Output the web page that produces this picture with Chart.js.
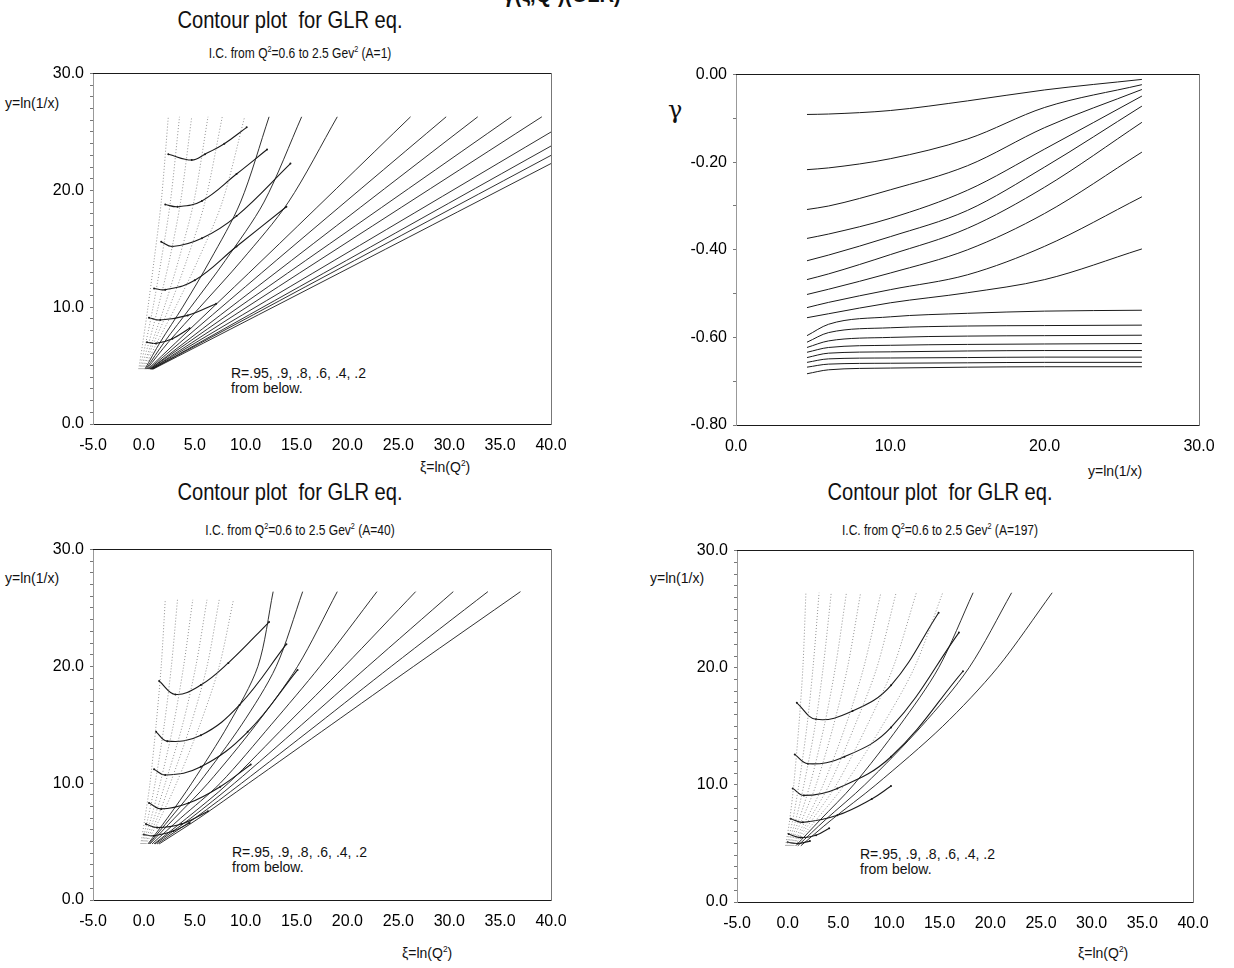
<!DOCTYPE html>
<html>
<head>
<meta charset="utf-8">
<script src="https://cdn.jsdelivr.net/npm/chart.js@4.4.1/dist/chart.umd.min.js"></script>
<style>
  body { margin: 0; background: #fff; width: 1234px; height: 968px; position: relative; overflow: hidden; font-family: 'Liberation Sans', Arial, sans-serif; color: #111; }
  canvas { position: absolute; }
  .lbl { position: absolute; white-space: nowrap; }
  .title { font-size: 24px; transform: translateX(-50%) scaleX(0.84); }
  .sub { font-size: 14px; transform: translateX(-50%) scaleX(0.86); }
  .ax { font-size: 14px; }
  .note { font-size: 14px; line-height: 15px; }
  sup { font-size: 0.6em; }
</style>
</head>
<body>
<div class="lbl title" style="left:562px; top:-20px; font-weight:bold;">γ(ξ,Q<sup>2</sup>)(GLR)</div>

<div class="lbl title" style="left:290px; top:6px;">Contour plot&nbsp; for GLR eq.</div>
<div class="lbl sub" style="left:300px; top:44px;">I.C. from Q<sup>2</sup>=0.6 to 2.5 Gev<sup>2</sup> (A=1)</div>
<div class="lbl ax" style="left:5px; top:95px;">y=ln(1/x)</div>
<div class="lbl ax" style="left:420px; top:458px;">ξ=ln(Q<sup>2</sup>)</div>
<div class="lbl note" style="left:231px; top:366px;">R=.95, .9, .8, .6, .4, .2<br>from below.</div>

<div class="lbl" style="left:668px; top:96px; font-size:24px; font-family:'DejaVu Serif', serif;">γ</div>
<div class="lbl ax" style="left:1088px; top:463px;">y=ln(1/x)</div>

<div class="lbl title" style="left:290px; top:478px;">Contour plot&nbsp; for GLR eq.</div>
<div class="lbl sub" style="left:300px; top:521px;">I.C. from Q<sup>2</sup>=0.6 to 2.5 Gev<sup>2</sup> (A=40)</div>
<div class="lbl ax" style="left:5px; top:570px;">y=ln(1/x)</div>
<div class="lbl ax" style="left:402px; top:944px;">ξ=ln(Q<sup>2</sup>)</div>
<div class="lbl note" style="left:232px; top:845px;">R=.95, .9, .8, .6, .4, .2<br>from below.</div>

<div class="lbl title" style="left:940px; top:478px;">Contour plot&nbsp; for GLR eq.</div>
<div class="lbl sub" style="left:940px; top:521px;">I.C. from Q<sup>2</sup>=0.6 to 2.5 Gev<sup>2</sup> (A=197)</div>
<div class="lbl ax" style="left:650px; top:570px;">y=ln(1/x)</div>
<div class="lbl ax" style="left:1078px; top:944px;">ξ=ln(Q<sup>2</sup>)</div>
<div class="lbl note" style="left:860px; top:847px;">R=.95, .9, .8, .6, .4, .2<br>from below.</div>

<canvas id="c1"></canvas>
<canvas id="c2"></canvas>
<canvas id="c3"></canvas>
<canvas id="c4"></canvas>

<script>
// ---- dados ----
// A=1 : caracteristicas (xi, y)
const a1Rays = [
  [[-0.5,4.7],[-0.1,7],[0.4,10],[1.0,14],[1.7,19],[2.4,26.3]],
  [[-0.4,4.7],[0.2,7],[0.9,10],[1.7,14],[2.6,19],[3.5,26.3]],
  [[-0.3,4.7],[0.5,7],[1.4,10],[2.5,14],[3.6,19],[4.7,26.3]],
  [[-0.2,4.7],[0.8,7],[2.0,10],[3.4,14],[4.9,19],[6.3,26.3]],
  [[-0.1,4.7],[1.0,7],[2.5,10],[4.2,14],[6.0,19],[7.7,26.3]],
  [[0.0,4.7],[1.3,7],[3.1,10],[5.3,14],[7.7,19],[9.9,26.3]],
  [[0.1,4.7],[1.6,7],[3.8,10],[6.5,14],[9.5,19],[12.3,26.3]],
  [[0.2,4.7],[2.0,7],[4.6,10],[8.0,14],[11.8,19],[15.5,26.3]],
  [[0.3,4.7],[2.4,7],[5.5,10],[9.6,14],[14.2,19],[19.0,26.3]],
  [[0.4,4.7],[11.6,14],[26.2,26.3]],
  [[0.5,4.7],[13.0,14],[29.7,26.3]],
  [[0.6,4.7],[14.5,14],[32.8,26.3]],
  [[0.6,4.7],[15.9,14],[36.1,26.3]],
  [[0.7,4.7],[17.2,14],[39.1,26.3]],
  [[0.7,4.7],[18.7,14],[40.0,25.0]],
  [[0.8,4.7],[19.9,14],[40.0,23.8]],
  [[0.8,4.7],[20.7,14],[40.0,23.0]],
  [[0.9,4.7],[21.6,14],[40.0,22.3]]
];
// A=1 : contornos R = .95, .9, .8, .6, .4, .2
const a1Contours = [
  [[0.3,7.0],[1.2,6.9],[2.8,7.3],[4.5,8.2]],
  [[0.5,9.1],[1.6,8.9],[4.3,9.3],[7.1,10.3]],
  [[1.0,11.6],[2.1,11.5],[5.0,12.3],[9.1,15.2],[14.0,18.6]],
  [[1.7,15.6],[2.8,15.2],[5.7,15.9],[9.1,17.8],[14.4,22.3]],
  [[2.1,18.8],[3.3,18.6],[5.7,19.1],[9.1,21.4],[12.1,23.5]],
  [[2.4,23.1],[4.7,22.6],[6.0,23.1],[7.9,24.0],[10.1,25.4]]
];

// gamma x y=ln(1/x)
const gammaY = [4.6, 6, 10, 15, 20, 26.3];
const gammaCurves = [
  [-0.091, -0.090, -0.082, -0.060, -0.035, -0.011],
  [-0.217, -0.213, -0.192, -0.147, -0.075, -0.023],
  [-0.308, -0.300, -0.263, -0.208, -0.121, -0.034],
  [-0.374, -0.364, -0.328, -0.264, -0.170, -0.049],
  [-0.425, -0.412, -0.370, -0.310, -0.211, -0.072],
  [-0.468, -0.455, -0.411, -0.351, -0.257, -0.109],
  [-0.502, -0.490, -0.453, -0.400, -0.317, -0.177],
  [-0.532, -0.520, -0.491, -0.457, -0.392, -0.279],
  [-0.555, -0.546, -0.521, -0.498, -0.468, -0.398],
  [-0.596, -0.570, -0.553, -0.545, -0.540, -0.538],
  [-0.611, -0.589, -0.578, -0.574, -0.573, -0.572],
  [-0.623, -0.608, -0.600, -0.597, -0.596, -0.595],
  [-0.634, -0.623, -0.618, -0.616, -0.615, -0.614],
  [-0.646, -0.636, -0.633, -0.631, -0.630, -0.630],
  [-0.657, -0.649, -0.647, -0.646, -0.645, -0.645],
  [-0.668, -0.661, -0.659, -0.658, -0.657, -0.657],
  [-0.683, -0.674, -0.670, -0.668, -0.667, -0.667]
];

// A=40
const a40Rays = [
  [[-0.3,4.8],[0.1,7],[0.6,10],[1.2,15],[1.7,20],[2.1,25.7]],
  [[-0.2,4.8],[0.4,7],[1.1,10],[2.0,15],[2.7,20],[3.3,25.7]],
  [[-0.1,4.8],[0.7,7],[1.6,10],[2.9,15],[3.9,20],[4.8,25.7]],
  [[0.0,4.8],[1.0,7],[2.1,10],[3.8,15],[5.1,20],[6.2,25.7]],
  [[0.1,4.8],[1.3,7],[2.6,10],[4.6,15],[6.2,20],[7.4,25.7]],
  [[0.2,4.8],[1.6,7],[3.2,10],[5.5,15],[7.4,20],[8.8,25.7]],
  [[0.4,4.8],[2.3,7],[4.7,10],[8.3,15],[11.2,20],[12.7,26.4]],
  [[0.5,4.8],[2.6,7],[5.4,10],[9.6,15],[13.0,20],[15.6,26.4]],
  [[0.6,4.8],[3.0,7],[6.3,10],[11.0,15],[15.1,20],[19.0,26.4]],
  [[0.8,4.8],[3.6,7],[7.5,10],[12.5,15],[17.3,20],[22.9,26.4]],
  [[1.0,4.8],[4.2,7],[8.3,10],[14.0,15],[19.7,20],[26.7,26.4]],
  [[1.1,4.8],[4.6,7],[8.9,10],[15.5,15],[22.0,20],[30.4,26.4]],
  [[1.3,4.8],[5.0,7],[9.6,10],[17.0,15],[24.3,20],[33.8,26.4]],
  [[1.5,4.8],[5.4,7],[10.3,10],[18.4,15],[26.5,20],[37.0,26.4]]
];
const a40Contours = [
  [[0.0,5.6],[1.0,5.5],[2.9,5.9],[4.5,6.6]],
  [[0.2,6.5],[1.3,6.2],[3.7,6.5],[6.3,7.6]],
  [[0.5,8.3],[1.7,7.8],[4.4,8.3],[7.5,9.7],[10.5,11.6]],
  [[1.0,11.2],[2.1,10.7],[5.6,11.4],[10.2,14.4],[15.1,19.7]],
  [[1.2,14.4],[2.3,13.6],[5.6,14.1],[9.4,16.7],[14.0,21.9]],
  [[1.5,18.75],[3.1,17.6],[5.6,18.4],[8.3,20.3],[12.3,23.8]]
];

// A=197
const a197Rays = [
  [[-0.2,4.8],[0.2,7],[0.6,10],[1.1,15],[1.5,20],[1.8,26.4]],
  [[-0.1,4.8],[0.5,7],[1.1,10],[1.9,15],[2.5,20],[3.1,26.4]],
  [[0.0,4.8],[0.8,7],[1.6,10],[2.7,15],[3.5,20],[4.3,26.4]],
  [[0.1,4.8],[1.1,7],[2.2,10],[3.6,15],[4.7,20],[5.8,26.4]],
  [[0.2,4.8],[1.4,7],[2.8,10],[4.5,15],[5.9,20],[7.2,26.4]],
  [[0.3,4.8],[1.8,7],[3.5,10],[5.7,15],[7.5,20],[9.2,26.4]],
  [[0.4,4.8],[2.1,7],[4.1,10],[6.6,15],[8.8,20],[10.7,26.4]],
  [[0.5,4.8],[2.4,7],[4.8,10],[7.8,15],[10.4,20],[12.7,26.4]],
  [[0.6,4.8],[2.8,7],[5.6,10],[9.3,15],[12.5,20],[15.3,26.4]],
  [[0.8,4.8],[3.2,7],[6.5,10],[11.0,15],[14.9,20],[18.3,26.4]],
  [[1.0,4.8],[3.7,7],[7.6,10],[13.2,15],[17.9,20],[22.1,26.4]],
  [[1.3,4.8],[4.3,7],[8.7,10],[15.3,15],[20.7,20],[26.1,26.4]]
];
const a197Contours = [
  [[0.0,5.1],[1.0,5.0],[2.2,5.2]],
  [[0.1,5.8],[1.3,5.5],[2.8,5.7],[4.1,6.3]],
  [[0.3,7.1],[1.5,6.8],[4.9,7.4],[8.3,8.8],[10.2,9.9]],
  [[0.5,9.7],[1.6,9.1],[4.9,9.7],[10.2,12.4],[17.3,19.7]],
  [[0.7,12.6],[2.0,11.8],[5.6,12.4],[10.2,14.9],[16.9,23.0]],
  [[0.9,17.0],[2.8,15.6],[6.4,16.3],[10.2,18.5],[14.9,24.7]]
];

const xiTicks = { min: -5, max: 40, step: 5 };
const yTicks = { min: 0, max: 30, step: 10 };
const gammaAxis = { min: -0.8, max: 0, step: 0.2 };
const yAxisLn = { min: 0, max: 30, step: 10 };

// ---- desenho ----
Chart.defaults.font.family = "'Liberation Sans', Arial, sans-serif";
Chart.defaults.color = '#111';

const AXW = 80, PADT = 14, PADR = 28, AXH = 26;
const INK = '#1a1a1a';

function toXY(pts) {
  return pts.map(p => ({ x: p[0], y: p[1] }));
}

function linhas(curves, nDotted, tension) {
  return curves.map((pts, i) => ({
    data: toXY(pts),
    showLine: true,
    borderColor: i < nDotted ? '#777' : INK,
    borderWidth: i < nDotted ? 0.8 : 0.9,
    borderDash: i < nDotted ? [1, 2] : [],
    pointRadius: 0,
    tension: tension
  }));
}

function contornos(curves) {
  return curves.map(pts => ({
    data: toXY(pts),
    showLine: true,
    borderColor: INK,
    borderWidth: 1.1,
    pointRadius: 1,
    pointBackgroundColor: INK,
    pointBorderWidth: 0,
    tension: 0.4
  }));
}

function eixos(xr, yr, xfmt, yfmt, yMinor) {
  const edge = { color: INK, width: 1 };
  return {
    x: {
      type: 'linear', position: 'bottom', min: xr.min, max: xr.max,
      ticks: { stepSize: xr.step, callback: v => xfmt(v), font: { size: 16 }, padding: 4, autoSkip: false, maxRotation: 0, color: '#000' },
      grid: { display: false },
      border: { color: INK, width: 1, dash: [6, 2] },
      afterFit: s => { s.height = AXH; }
    },
    y: {
      type: 'linear', position: 'left', min: yr.min, max: yr.max,
      ticks: {
        stepSize: yMinor, autoSkip: false, font: { size: 16 }, padding: 6, color: '#000',
        callback: v => (Math.abs((v - yr.min) / yr.step - Math.round((v - yr.min) / yr.step)) < 1e-6 ? yfmt(v) : '')
      },
      grid: { display: true, drawOnChartArea: false, drawTicks: true, tickLength: 3, color: '#777' },
      border: { color: '#999', width: 1, dash: [1, 4] },
      afterFit: s => { s.width = AXW; }
    },
    xTop: {
      type: 'linear', position: 'top', min: xr.min, max: xr.max,
      ticks: { display: false }, grid: { display: false },
      border: edge,
      afterFit: s => { s.height = 0; }
    },
    yRight: {
      type: 'linear', position: 'right', min: yr.min, max: yr.max,
      ticks: { display: false }, grid: { display: false },
      border: { color: '#777', width: 1, dash: [1, 8] },
      afterFit: s => { s.width = 0; }
    }
  };
}

function painel(id, area, datasets, scales) {
  const cv = document.getElementById(id);
  const w = (area.r - area.l) + AXW + PADR;
  const h = (area.b - area.t) + PADT + AXH;
  cv.width = w; cv.height = h;
  cv.style.left = (area.l - AXW) + 'px';
  cv.style.top = (area.t - PADT) + 'px';
  cv.style.width = w + 'px'; cv.style.height = h + 'px';
  return new Chart(cv.getContext('2d'), {
    type: 'scatter',
    data: { datasets: datasets },
    options: {
      responsive: false, animation: false, devicePixelRatio: 1,
      layout: { padding: { top: PADT, right: PADR, left: 0, bottom: 0 } },
      plugins: { legend: { display: false }, tooltip: { enabled: false } },
      scales: scales
    }
  });
}

const f1 = v => v.toFixed(1);
const f2 = v => v.toFixed(2);

painel('c1', { l: 93, t: 72, r: 551, b: 424 },
  linhas(a1Rays, 6, 0.3).concat(contornos(a1Contours)),
  eixos(xiTicks, yTicks, f1, f1, 1));

const gammaSets = gammaCurves.map(c => ({
  data: gammaY.map((yy, j) => ({ x: yy, y: c[j] })),
  showLine: true, borderColor: INK, borderWidth: 1, pointRadius: 0,
  cubicInterpolationMode: 'monotone'
}));
const s2 = eixos({ min: 0, max: 30, step: 10 }, gammaAxis, f1, f2, 0.1);
s2.y.border = { color: '#999', width: 1, dash: [1, 12] };
s2.x.border = { color: INK, width: 1 };
painel('c2', { l: 736, t: 73, r: 1199, b: 425 }, gammaSets, s2);

painel('c3', { l: 93, t: 548, r: 551, b: 900 },
  linhas(a40Rays, 6, 0.3).concat(contornos(a40Contours)),
  eixos(xiTicks, yAxisLn, f1, f1, 1));

painel('c4', { l: 737, t: 549, r: 1193, b: 902 },
  linhas(a197Rays, 9, 0.3).concat(contornos(a197Contours)),
  eixos(xiTicks, yAxisLn, f1, f1, 1));
</script>
</body>
</html>
